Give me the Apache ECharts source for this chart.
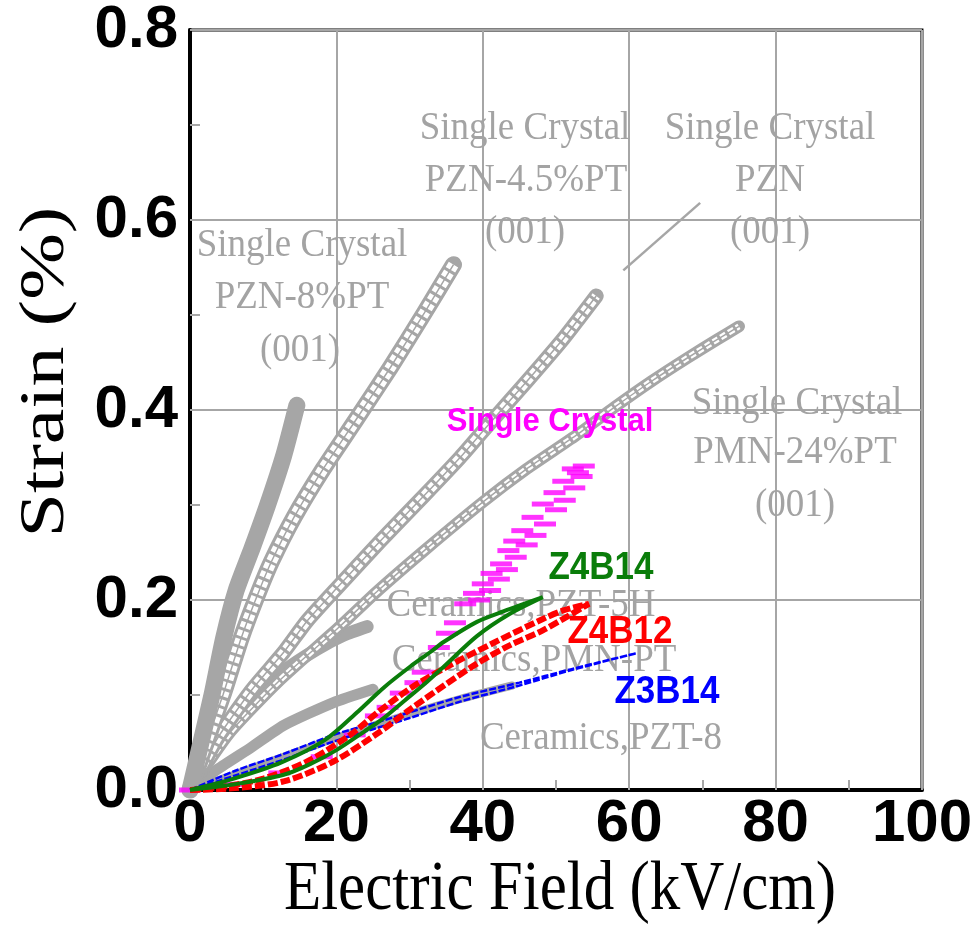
<!DOCTYPE html>
<html>
<head>
<meta charset="utf-8">
<script src="https://cdn.jsdelivr.net/npm/echarts@6.0.0/dist/echarts.min.js"></script>
<style>
  html, body { margin: 0; padding: 0; background: #fff; }
  #chart { width: 975px; height: 947px; }
</style>
</head>
<body>
<div id="chart"></div>
<script>
// Electric field (kV/cm) vs strain (%) pairs for each material.

// Reference single crystals (grey)
const pzn8PT = [[0,0],[1.5,0.05],[3,0.1],[4.6,0.16],[6.3,0.21],[8.5,0.255],[10.6,0.3],[12.8,0.352],[14.6,0.405]];
const pzn45PT = [[0,0],[2,0.045],[4.5,0.1],[7,0.16],[9.2,0.205],[11.1,0.24],[14.2,0.287],[18.2,0.338],[22.7,0.39],[27.4,0.445],[32,0.502],[36,0.553]];
const pznSC = [[0,0],[3.8,0.055],[8.4,0.105],[12.8,0.145],[16,0.178],[20,0.212],[26,0.262],[32,0.31],[36.9,0.35],[40.5,0.382],[46,0.43],[51,0.475],[55.5,0.52]];
const pmn24PT = [[0,0],[5.4,0.06],[12.2,0.115],[20.3,0.171],[25.7,0.21],[32,0.252],[40,0.303],[46,0.338],[52.7,0.373],[58,0.403],[63,0.43],[68,0.455],[72,0.474],[75,0.488]];
const pznPointer = [[59.2,0.547],[69.7,0.618]];

// Reference ceramics (grey)
const pzt5H = [[0,0],[3.8,0.055],[8.4,0.095],[12.8,0.125],[17.3,0.148],[21,0.163],[24.2,0.172]];
const pmnPTCeramic = [[0,0],[3.8,0.022],[8.4,0.045],[12.8,0.068],[19.6,0.092],[25,0.106]];
const pzt8 = [[0,0],[6,0.016],[12.8,0.035],[19.6,0.054],[30,0.08],[37,0.096],[44,0.11]];

// Single crystal (magenta), both rows of the loop
const singleCrystal = [[0,0],[6,0.006],[12.2,0.018],[18,0.035],[22.5,0.058],[25.4,0.078],[27,0.087],[28.8,0.102],[30.8,0.113],[31.8,0.124],[34,0.15],[35.1,0.165],[36.2,0.176],[37.6,0.196],[38.8,0.207],[40,0.217],[41.2,0.228],[42.5,0.238],[43.5,0.252],[44.3,0.262],[45.4,0.273],[46.8,0.287],[48.2,0.301],[49.8,0.313],[51,0.325],[52.3,0.338],
  [39.5,0.2],[41,0.21],[42.2,0.222],[43.3,0.232],[44.5,0.245],[46,0.258],[47.2,0.268],[48.5,0.28],[50,0.295],[51.2,0.305],[52.5,0.318],[53.5,0.33],[53,0.334],[53.8,0.341]];

// Z4B14 (green) loop
const z4b14Rise = [[0,0],[6.1,0.006],[12.8,0.016],[16.6,0.028],[20,0.042],[23.9,0.062],[26.5,0.076],[29.3,0.094],[32.4,0.114],[34.7,0.13],[39.2,0.162],[43.6,0.185],[48.2,0.203]];
const z4b14Fall = [[48.2,0.203],[42.8,0.188],[39.2,0.177],[34.7,0.156],[32.8,0.145],[30.1,0.13],[26.5,0.108],[23,0.083],[18.5,0.053],[12.5,0.029],[6,0.012],[0,0]];

// Z4B12 (red) loop
const z4b12Rise = [[0,0],[6.1,0.002],[12.8,0.009],[19.6,0.03],[25.7,0.06],[30.1,0.085],[34.7,0.11],[39.2,0.133],[43.6,0.152],[48.2,0.168],[54.5,0.196]];
const z4b12Fall = [[54.5,0.196],[51,0.189],[48.2,0.18],[41.5,0.155],[34.7,0.128],[30.1,0.107],[25.7,0.082],[21.9,0.058],[16,0.03],[10,0.012],[5,0.004],[0,0]];

// Z3B14 (blue) loop
const z3b14Rise = [[0,0],[6.1,0.015],[12.8,0.032],[19.6,0.051],[25,0.064],[30.1,0.076],[36.9,0.093],[45,0.11],[52,0.126],[61,0.144]];
const z3b14Fall = [[61,0.144],[52,0.127],[45,0.113],[36.9,0.098],[30.1,0.082],[25,0.07],[19.6,0.058],[12.8,0.038],[6.1,0.02],[0,0]];

const xTicks = [0, 20, 40, 60, 80, 100];
const yTicks = [0, 0.2, 0.4, 0.6, 0.8];

const GRAY = '#a6a6a6';
const GRAY_TEXT = '#a3a3a3';

function solidBand(name, data, width) {
  return {
    name, type: 'line', data, smooth: 0.2, symbol: 'none', silent: true, z: 1,
    lineStyle: { color: GRAY, width, cap: 'round', join: 'round' }
  };
}

// a chain of hollow squares: grey band, white dashed core, thin grey centre line
function hollowBand(name, data, width) {
  return [
    solidBand(name, data, width),
    { name: name + ' core', type: 'line', data, smooth: 0.2, symbol: 'none', silent: true, z: 1,
      lineStyle: { color: '#fff', width: width - 6, type: [6, 3], cap: 'butt' } },
    { name: name + ' mid', type: 'line', data, smooth: 0.2, symbol: 'none', silent: true, z: 1,
      lineStyle: { color: GRAY, width: 1.5 } }
  ];
}

function loop(rise, fall) {
  return rise.concat(fall.slice(1));
}

const chart = echarts.init(document.getElementById('chart'), null, { renderer: 'canvas' });

const serif = '"Liberation Serif", "Times New Roman", serif';
const sans = '"Liberation Sans", Arial, sans-serif';

function grayText(text, x, y) {
  return {
    type: 'text', x, y, scaleY: 1.1, z: 1, silent: true,
    style: { text, font: '37px ' + serif, fill: GRAY_TEXT, align: 'center', verticalAlign: 'middle' }
  };
}
function colorText(text, x, y, color, size) {
  return {
    type: 'text', x, y, scaleY: 1.1, z: 100, silent: true,
    style: { text, font: 'bold ' + size + 'px ' + sans, fill: color, align: 'center', verticalAlign: 'middle' }
  };
}

const option = {
  animation: false,
  backgroundColor: '#fff',
  grid: { left: 190, right: 45, top: 28, bottom: 157, show: true, borderColor: '#000', borderWidth: 3 },
  xAxis: {
    type: 'value', min: xTicks[0], max: xTicks[xTicks.length - 1], interval: xTicks[1] - xTicks[0],
    axisLine: { show: true, onZero: false, lineStyle: { color: '#000', width: 4 } },
    axisTick: { show: true, inside: true, length: 10, lineStyle: { color: GRAY, width: 2 } },
    minorTick: { show: true, splitNumber: 2, length: 10, lineStyle: { color: GRAY, width: 2 } },
    splitLine: { show: true, lineStyle: { color: GRAY, width: 2 } },
    axisLabel: { fontFamily: sans, fontSize: 60, fontWeight: 'bold', color: '#000', margin: 4 }
  },
  yAxis: {
    type: 'value', min: yTicks[0], max: yTicks[yTicks.length - 1], interval: yTicks[1] - yTicks[0],
    axisLine: { show: true, onZero: false, lineStyle: { color: '#000', width: 4 } },
    axisTick: { show: true, inside: true, length: 10, lineStyle: { color: GRAY, width: 2 } },
    minorTick: { show: true, splitNumber: 2, length: 10, lineStyle: { color: GRAY, width: 2 } },
    splitLine: { show: true, lineStyle: { color: GRAY, width: 2 } },
    axisLabel: { fontFamily: sans, fontSize: 60, fontWeight: 'bold', color: '#000', margin: 12, formatter: v => v.toFixed(1) }
  },
  graphic: [
    grayText('Single Crystal', 302, 245), grayText('PZN-8%PT', 302, 297), grayText('(001)', 300, 350),
    grayText('Single Crystal', 525, 128), grayText('PZN-4.5%PT', 526, 180), grayText('(001)', 525, 232),
    grayText('Single Crystal', 770, 128), grayText('PZN', 770, 180), grayText('(001)', 770, 232),
    grayText('Single Crystal', 797, 403), grayText('PMN-24%PT', 795, 452), grayText('(001)', 795, 505),
    grayText('Ceramics,PZT-5H', 521, 605),
    grayText('Ceramics,PMN-PT', 534, 660),
    grayText('Ceramics,PZT-8', 601, 738),
    colorText('Single Crystal', 550, 422, '#ff00ff', 31),
    colorText('Z4B14', 601, 568, '#0a7d0a', 35),
    colorText('Z4B12', 620, 632, '#ff0000', 35),
    colorText('Z3B14', 667, 692, '#0000ff', 35),
    {
      type: 'text', x: 46, y: 372, rotation: Math.PI / 2, scaleX: 1.25, silent: true,
      style: { text: 'Strain (%)', font: '64px ' + serif, fill: '#000', align: 'center', verticalAlign: 'middle' }
    },
    {
      type: 'text', x: 560, y: 891, scaleY: 1.15, silent: true,
      style: { text: 'Electric Field (kV/cm)', font: '61px ' + serif, fill: '#000', align: 'center', verticalAlign: 'middle' }
    }
  ],
  series: [
    solidBand('Ceramics PZT-8', pzt8, 8),
    solidBand('Ceramics PMN-PT', pmnPTCeramic, 11),
    solidBand('Ceramics PZT-5H', pzt5H, 13),
    ...hollowBand('PMN-24%PT (001)', pmn24PT, 12),
    ...hollowBand('PZN (001)', pznSC, 15),
    ...hollowBand('PZN-4.5%PT (001)', pzn45PT, 17),
    solidBand('PZN-8%PT (001)', pzn8PT, 17),
    { name: 'PZN pointer', type: 'line', data: pznPointer, symbol: 'none', silent: true, z: 1,
      lineStyle: { color: GRAY, width: 2.5 } },
    { name: 'Single Crystal', type: 'scatter', data: singleCrystal, symbol: 'rect', symbolSize: [22, 5],
      itemStyle: { color: '#ff00ff' }, z: 3, silent: true },
    { name: 'Z3B14', type: 'line', data: loop(z3b14Rise, z3b14Fall), smooth: 0.3, symbol: 'none', z: 4, silent: true,
      lineStyle: { color: '#0000ff', width: 2.5, type: [7, 2] } },
    { name: 'Z4B12', type: 'line', data: loop(z4b12Rise, z4b12Fall), smooth: 0.3, symbol: 'none', z: 5, silent: true,
      lineStyle: { color: '#ff0000', width: 6, type: [10, 3] } },
    { name: 'Z4B14', type: 'line', data: loop(z4b14Rise, z4b14Fall), smooth: 0.3, symbol: 'none', z: 6, silent: true,
      lineStyle: { color: '#0a7d0a', width: 4 } }
  ]
};

chart.setOption(option);
</script>
</body>
</html>
